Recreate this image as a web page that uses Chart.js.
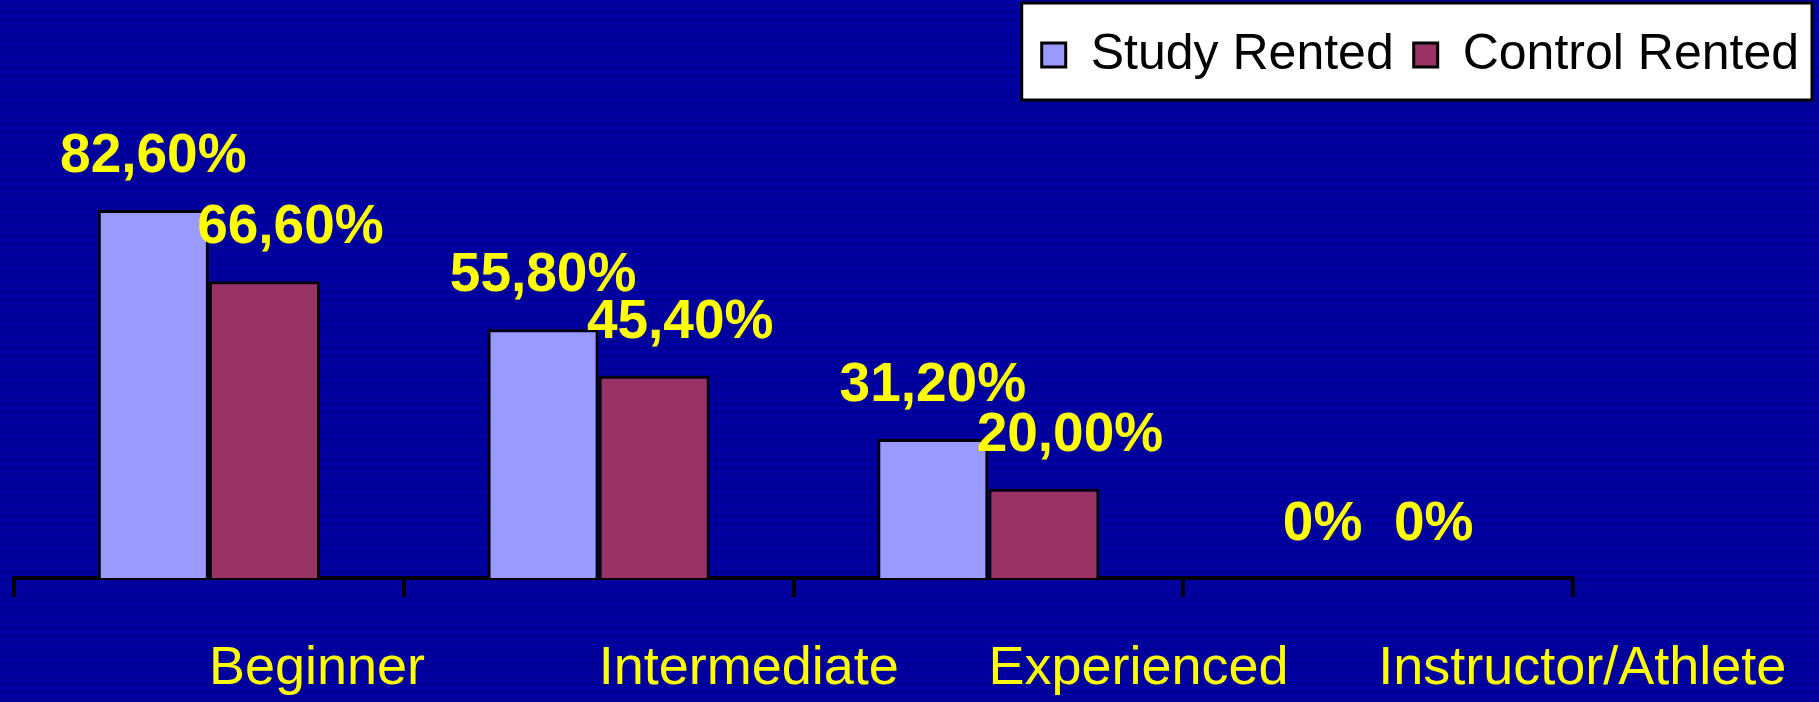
<!DOCTYPE html>
<html>
<head>
<meta charset="utf-8">
<script src="https://cdn.jsdelivr.net/npm/chart.js"></script>
<style>
  html, body { margin: 0; padding: 0; }
  body {
    background: repeating-linear-gradient(to bottom, #0000a2 0px, #0000a2 4px, #000096 4px, #000096 7px);
  }
  canvas { display: block; }
</style>
</head>
<body>
<canvas id="myChart" width="1819" height="702"></canvas>
<script>
const categories = ['Beginner', 'Intermediate', 'Experienced', 'Instructor/Athlete'];
const studyRented = [82.6, 55.8, 31.2, 0];
const controlRented = [66.6, 45.4, 20.0, 0];
const seriesNames = ['Study Rented', 'Control Rented'];

const fontFamily = '"Liberation Sans", Arial, sans-serif';

function fmt(v) {
  if (v === 0) return '0%';
  return v.toFixed(2).replace('.', ',') + '%';
}

// yellow value labels above the bars
const barLabels = {
  id: 'barLabels',
  afterDatasetsDraw(chart) {
    const ctx = chart.ctx;
    ctx.save();
    ctx.font = 'bold 55px ' + fontFamily;
    ctx.fillStyle = '#ffff00';
    ctx.textAlign = 'center';
    ctx.textBaseline = 'alphabetic';
    chart.data.datasets.forEach((ds, i) => {
      const meta = chart.getDatasetMeta(i);
      meta.data.forEach((bar, j) => {
        const v = ds.data[j];
        let dx = 0;
        if (i == 1 && v > 0) dx = 26;
        ctx.fillText(fmt(v), bar.x + dx, bar.y - 38);
      });
    });
    ctx.restore();
  }
};

// white box behind the legend
const legendBox = {
  id: 'legendBox',
  beforeDraw(chart) {
    const boxes = chart.legend.legendHitBoxes;
    if (!boxes || !boxes.length) return;
    let l = Infinity, r = -Infinity, t = Infinity, b = -Infinity;
    boxes.forEach(h => {
      l = Math.min(l, h.left);
      r = Math.max(r, h.left + h.width);
      t = Math.min(t, h.top);
      b = Math.max(b, h.top + h.height);
    });
    const ctx = chart.ctx;
    ctx.save();
    ctx.fillStyle = '#ffffff';
    ctx.strokeStyle = '#000000';
    ctx.lineWidth = 3;
    ctx.fillRect(l - 20, t - 27, r - l + 33, b - t + 47);
    ctx.strokeRect(l - 20, t - 27, r - l + 33, b - t + 47);
    ctx.restore();
  }
};

const ctx = document.getElementById('myChart');

new Chart(ctx, {
  type: 'bar',
  data: {
    labels: categories,
    datasets: [{
      label: seriesNames[0],
      data: studyRented,
      backgroundColor: '#9999ff',
      borderColor: '#000000',
      borderWidth: 3
    }, {
      label: seriesNames[1],
      data: controlRented,
      backgroundColor: '#993366',
      borderColor: '#000000',
      borderWidth: 3
    }]
  },
  options: {
    responsive: false,
    animation: false,
    layout: {
      padding: { left: 14, top: 10, right: 0, bottom: 0 }
    },
    datasets: {
      bar: {
        categoryPercentage: 0.57,
        barPercentage: 1
      }
    },
    plugins: {
      legend: {
        position: 'top',
        align: 'end',
        labels: {
          color: '#000000',
          font: { family: fontFamily, size: 50 },
          boxWidth: 24,
          boxHeight: 24,
          padding: 20
        }
      },
      tooltip: { enabled: false }
    },
    scales: {
      x: {
        grid: {
          drawOnChartArea: false,
          color: '#000000',
          lineWidth: 4,
          tickLength: 19
        },
        border: { color: '#000000', width: 4 },
        ticks: {
          color: '#ffff00',
          align: 'start',
          padding: 40,
          maxRotation: 0,
          minRotation: 0,
          autoSkip: false,
          font: { family: fontFamily, size: 54 }
        },
        afterFit(scale) {
          scale.height = 124;
          scale.paddingLeft = 0;
          scale.paddingRight = 0;
        }
      },
      y: {
        position: 'right',
        min: 0,
        max: 109.5,
        grid: { display: false },
        border: { display: false },
        ticks: { display: false },
        afterFit(scale) {
          scale.width = 246;
        }
      }
    }
  },
  plugins: [legendBox, barLabels]
});
</script>
</body>
</html>
